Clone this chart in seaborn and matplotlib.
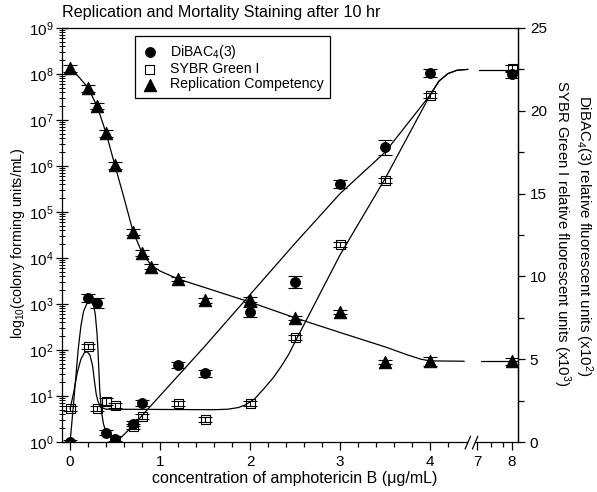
import numpy as np
import seaborn as sns
import matplotlib.pyplot as plt
import matplotlib.ticker as mticker
from matplotlib.patches import Rectangle

# measured points (x in ug/mL)
x_pts = [0, 0.2, 0.3, 0.4, 0.5, 0.7, 0.8, 1.2, 1.5, 2.0, 2.5, 3.0, 3.5, 4.0, 8]
dibac = [0, 8.7, 8.4, 0.55, 0.2, 1.1, 2.35, 4.65, 4.15, 7.85, 9.65, 15.6, 17.8, 22.3, 22.2]
dibac_err = [0.1, 0.25, 0.3, 0.15, 0.15, 0.15, 0.2, 0.2, 0.2, 0.3, 0.35, 0.25, 0.45, 0.25, 0.2]
sybr = [2.0, 5.75, 2.05, 2.45, 2.2, 0.95, 1.55, 2.3, 1.35, 2.35, 6.3, 11.95, 15.8, 20.95, 22.55]
sybr_err = [0.15, 0.15, 0.15, 0.2, 0.15, 0.15, 0.15, 0.15, 0.15, 0.15, 0.15, 0.15, 0.15, 0.15, 0.2]

x_tri = [0, 0.2, 0.3, 0.4, 0.5, 0.7, 0.8, 0.9, 1.2, 1.5, 2.0, 2.5, 3.0, 3.5, 4.0, 8]
tri = [1.35e8, 5e7, 2e7, 5.2e6, 1.05e6, 3.7e4, 1.3e4, 6.5e3, 3.5e3, 1.2e3, 1.25e3, 500, 680, 55, 58, 57]
tri_err = [2.5e7, 9e6, 3e6, 1e6, 2e5, 6e3, 2e3, 8e2, 4e2, 1.5e2, 1.5e2, 60, 60, 6, 14, 10]

# fitted curves as drawn in the figure
dibac_fit_x = [0, 0.03, 0.06, 0.09, 0.12, 0.15, 0.19, 0.23, 0.26, 0.28, 0.30, 0.31, 0.32, 0.33,
               0.35, 0.37, 0.40, 0.44, 0.50, 0.55, 0.60, 0.70, 0.80, 1.5, 2.0, 2.5, 3.0, 3.5,
               4.0, 4.1, 4.2, 4.3, 4.42]
dibac_fit_y = [0, 1.8, 3.7, 5.6, 7.0, 7.9, 8.4, 8.45, 8.3, 7.7, 6.5, 5.5, 4.3, 3.1,
               1.8, 1.1, 0.6, 0.3, 0.12, 0.2, 0.45, 1.0, 1.6, 5.8, 8.9, 12.0, 15.0, 17.5,
               20.95, 21.8, 22.25, 22.45, 22.5]
sybr_fit_x = [0, 0.04, 0.08, 0.12, 0.16, 0.19, 0.22, 0.25, 0.27, 0.29, 0.31, 0.34, 0.4, 0.8,
              1.2, 1.6, 1.75, 1.87, 1.95, 2.05, 2.15, 2.26, 2.35, 2.43, 2.5, 3.0, 3.5, 4.0,
              4.1, 4.2, 4.3, 4.42]
sybr_fit_y = [2.0, 3.0, 4.2, 5.0, 5.4, 5.45, 5.25, 4.6, 3.7, 2.9, 2.45, 2.1, 1.98, 1.97,
              1.96, 1.95, 1.98, 2.08, 2.25, 2.6, 3.2, 3.9, 4.6, 5.3, 6.05, 11.3, 15.9, 20.95,
              21.8, 22.25, 22.45, 22.5]
fluor_tail_x = [7.05, 8.17]
fluor_tail_y = [22.45, 22.45]

tri_fit_x = [0, 0.1, 0.2, 0.3, 0.4, 0.5, 0.6, 0.7, 0.8, 0.9, 1.0, 1.2, 2.0, 2.5, 3.0, 3.5,
             3.75, 3.9, 4.0, 4.38]
tri_fit_y = [1.35e8, 8.5e7, 5e7, 2e7, 5.2e6, 1e6, 2e5, 3.7e4, 1.3e4, 7e3, 5.2e3, 3.5e3,
             1.1e3, 500, 240, 117, 78, 63, 58, 57]
tri_tail_x = [7.12, 8.17]
tri_tail_y = [57, 57]

x_major = [0, 1, 2, 3, 4, 7, 8]
x_minor = [v / 10 for v in range(2, 44, 2) if v % 10 != 0] + [7.4, 7.75]

sns.set_style("ticks", rc={"axes.edgecolor": "black", "xtick.color": "black",
                           "ytick.color": "black", "text.color": "black",
                           "axes.labelcolor": "black"})
plt.rcParams['font.family'] = ['Liberation Sans', 'DejaVu Sans']
plt.rcParams['mathtext.default'] = 'regular'


# broken x axis: 0-4 at full scale, 7-8 compressed after the break
def fwd(x):
    x = np.asarray(x, dtype=float)
    return np.where(x <= 4.45, x,
                    np.where(x >= 7, 4.522 + (x - 7) * 0.389,
                             4.45 + (x - 4.45) * 0.072 / 2.55))


def inv(u):
    u = np.asarray(u, dtype=float)
    return np.where(u <= 4.45, u,
                    np.where(u >= 4.522, 7 + (u - 4.522) / 0.389,
                             4.45 + (u - 4.45) * 2.55 / 0.072))


fig = plt.figure(figsize=(5.97, 4.92), dpi=100)
ax = fig.add_axes([62 / 597, 50 / 492, 456 / 597, 414 / 492])
ax.set_xscale('function', functions=(fwd, inv))
ax2 = ax.twinx()

lw = 0.9
# curves
sns.lineplot(x=tri_fit_x, y=tri_fit_y, ax=ax, color='k', lw=lw, sort=False)
sns.lineplot(x=tri_tail_x, y=tri_tail_y, ax=ax, color='k', lw=lw, sort=False)
sns.lineplot(x=dibac_fit_x, y=dibac_fit_y, ax=ax2, color='k', lw=lw, sort=False)
sns.lineplot(x=sybr_fit_x, y=sybr_fit_y, ax=ax2, color='k', lw=lw, sort=False)
sns.lineplot(x=fluor_tail_x, y=fluor_tail_y, ax=ax2, color='k', lw=lw, sort=False)

# markers
sns.scatterplot(x=x_tri, y=tri, ax=ax, marker='^', s=80, color='k', edgecolor='k',
                label='Replication Competency', zorder=3)
sns.scatterplot(x=x_pts, y=dibac, ax=ax2, marker='o', s=52, color='k', edgecolor='k',
                label='DiBAC$_4$(3)', zorder=3)
sns.scatterplot(x=x_pts, y=sybr, ax=ax2, marker='s', s=42, color='k', facecolors='none',
                edgecolor='k', linewidth=0.8, label='SYBR Green I', zorder=3)

# error bars
ekw = dict(fmt='none', ecolor='k', capsize=5, elinewidth=0.8, capthick=0.8, zorder=4)
ax.errorbar(x_tri, tri, yerr=tri_err, **ekw)
ax2.errorbar(x_pts, dibac, yerr=dibac_err, **ekw)
ax2.errorbar(x_pts, sybr, yerr=sybr_err, **ekw)

# axes
ax.set_xlim(-0.09, 8.17)
ax.set_yscale('log')
ax.set_ylim(1, 1e9)
ax.yaxis.set_major_locator(mticker.LogLocator(base=10, numticks=12))
ax.yaxis.set_minor_locator(mticker.LogLocator(base=10, subs=np.arange(2, 10), numticks=12))
ax.yaxis.set_minor_formatter(mticker.NullFormatter())
ax2.set_ylim(0, 25)
ax2.set_yticks(range(0, 26, 5))
ax2.yaxis.set_minor_locator(mticker.MultipleLocator(2.5))

ax.set_xticks(x_major)
ax.set_xticklabels([str(v) for v in x_major])
ax.set_xticks(x_minor, minor=True)
ax.set_xlabel('')
ax.set_ylabel('')
ax2.set_ylabel('')

ax.tick_params(axis='x', which='major', direction='out', length=6, width=lw, labelsize=11, top=False)
ax.tick_params(axis='x', which='minor', direction='out', length=3.5, width=lw, top=False)
ax.tick_params(axis='y', which='major', direction='inout', length=8, width=lw, labelsize=11, pad=2)
ax.tick_params(axis='y', which='minor', direction='inout', length=4, width=0.7)
ax2.tick_params(axis='y', which='major', direction='out', length=5, width=lw, labelsize=11)
ax2.tick_params(axis='y', which='minor', direction='out', length=4, width=lw)

for a in (ax, ax2):
    for s in a.spines.values():
        s.set_linewidth(lw)
        s.set_color('k')
for s in ('left', 'bottom', 'top'):
    ax2.spines[s].set_visible(False)

# axis break marks
ax2.add_patch(Rectangle((0.891, -0.006), 0.014, 0.012, transform=ax2.transAxes,
                        facecolor='white', edgecolor='none', clip_on=False, zorder=10))
for xc in (0.890, 0.906):
    ax2.plot([xc - 0.006, xc + 0.006], [-0.017, 0.014], transform=ax2.transAxes,
             color='k', lw=lw, clip_on=False, zorder=11)

# legend
h2, l2 = ax2.get_legend_handles_labels()
h1, l1 = ax.get_legend_handles_labels()
if ax.get_legend():
    ax.get_legend().remove()
leg = ax2.legend(h2 + h1, l2 + l1, loc='upper left', bbox_to_anchor=(0.16, 0.98),
                 borderaxespad=0, frameon=True, fancybox=False, edgecolor='k', framealpha=1,
                 borderpad=0.45, handletextpad=0.8, labelspacing=0.1, handlelength=1.2,
                 fontsize=10.2)
leg.get_frame().set_linewidth(lw)

# text
fig.text(62 / 597, 1 - 13 / 492, 'Replication and Mortality Staining after 10 hr',
         ha='left', va='center', fontsize=11.6)
fig.text(295 / 597, 1 - 479 / 492, 'concentration of amphotericin B (\u03bcg/mL)',
         ha='center', va='center', fontsize=11.5)
fig.text(18 / 597, 1 - 243 / 492, 'log$_{10}$(colony forming units/mL)',
         rotation=90, ha='center', va='center', fontsize=10.3)
fig.text(584 / 597, 1 - 236 / 492, 'DiBAC$_4$(3) relative fluorescent units (x10$^2$)',
         rotation=270, ha='center', va='center', fontsize=10.8)
fig.text(562 / 597, 1 - 233 / 492, 'SYBR Green I relative fluorescent units (x10$^3$)',
         rotation=270, ha='center', va='center', fontsize=10.8)

fig.savefig('out.png', dpi=100)
